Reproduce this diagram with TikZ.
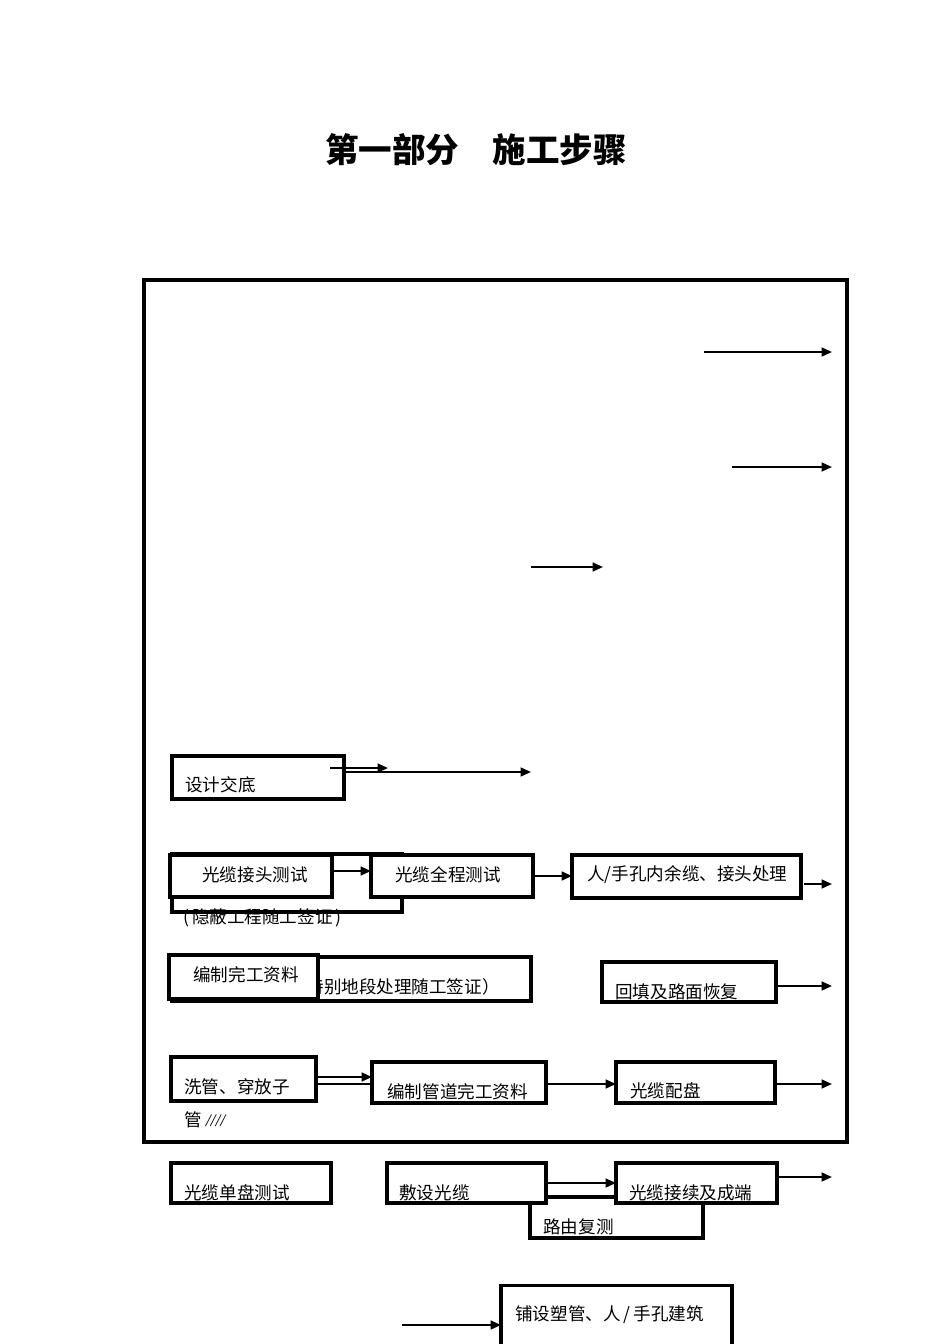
\documentclass[tikz,border=0pt]{standalone}
\usepackage{fontspec}
\setmainfont{Noto Sans CJK SC}
\newfontfamily\lser{Liberation Serif}
\usetikzlibrary{arrows.meta}
\def\pxu{0.6263pt}
\tikzset{
  box/.style={draw, line width=1.9pt, fill=white, inner sep=0pt, outer sep=0pt, anchor=north west},
  sz/.style 2 args={minimum width=#1*\pxu, minimum height=#2*\pxu},
  frame/.style={draw, line width=2pt, inner sep=0pt, outer sep=0pt, anchor=north west},
  lbl/.style={font=\fontsize{11pt}{13pt}\selectfont, inner sep=0pt, anchor=west},
  ttl/.style={font=\fontsize{21pt}{24pt}\selectfont\bfseries, inner sep=0pt},
  arr/.style={line width=1.3pt, -{Triangle[length=6.5pt,width=5.5pt]}},
  ln/.style={line width=1.3pt}}
\begin{document}
\begin{tikzpicture}[x=0.6263pt,y=-0.6263pt]
\useasboundingbox (0,0) rectangle (950,1344);

% title
\node[ttl] (title) at (476,150) {第一部分\quad 施工步骤};

% outer frame
\node[frame, sz={703}{862}] (fr) at (144,280) {};

% free-end coordinates
\coordinate (a1s) at (704,352);
\coordinate (a1e) at (832,352);
\coordinate (a2s) at (732,467);
\coordinate (a2e) at (832,467);
\coordinate (a3s) at (531,567);
\coordinate (a3e) at (603,567);

\draw[arr] (a1s) -- (a1e);
\draw[arr] (a2s) -- (a2e);
\draw[arr] (a3s) -- (a3e);

% design briefing
\node[box, sz={172}{43}] (sj) at (172,756) {};
\node[lbl] (sjt) at (185,785) {设计交底};
\coordinate (sjAs) at (330,768);
\coordinate (sjAe) at (388,768);
\coordinate (sjBe) at (531,772);
\draw[arr] (sjAs) -- (sjAe);
\draw[arr] (sj.east |- sjBe) -- (sjBe);

% row: splice test
\node[box, sz={230}{58}] (yb) at (172,854) {};
\node[box, sz={162}{42}] (jt) at (170,855) {};
\node[lbl] (jtt) at (202,875) {光缆接头测试};
\node[box, sz={162}{42}] (qc) at (371,855) {};
\node[lbl] (qct) at (395,875) {光缆全程测试};
\node[lbl] (ybt) at (183,918) {(\,隐蔽工程随工签证\,)};
\node[box, sz={229}{43}] (rs) at (572,855) {};
\node[lbl] (rst) at (587,875) {人/手孔内余缆、接头处理};
\coordinate (rse) at (832,884);
\draw[arr] (jt.east |- 0,871) -- (qc.west |- 0,871);
\draw[arr] (qc.east |- 0,876) -- (rs.west |- 0,876);
\draw[arr] ([xshift=2pt]rs.east |- rse) -- (rse);

% row: as-built documents
\node[box, sz={359}{44}] (tb) at (172,957) {};
\node[lbl, anchor=east] (tbt) at (500,987) {（特别地段处理随工签证）};
\node[box, sz={149}{44}] (bz) at (169,955) {};
\node[lbl] (bzt) at (193,975) {编制完工资料};
\node[box, sz={174}{40}] (ht) at (602,962) {};
\node[lbl] (htt) at (615,992) {回填及路面恢复};
\coordinate (hte) at (832,986);
\draw[arr] (ht.east |- hte) -- (hte);

% row: pipe cleaning
\node[box, sz={145}{44}] (xg) at (171,1057) {};
\node[lbl] (xgt) at (184,1087) {洗管、穿放子};
\node[lbl] (xgt2) at (184,1120) {管 {\lser\itshape ////}};
\node[box, sz={174}{41}] (gd) at (372,1062) {};
\node[lbl] (gdt) at (387,1092) {编制管道完工资料};
\node[box, sz={159}{41}] (pp) at (616,1062) {};
\node[lbl] (ppt) at (630,1091) {光缆配盘};
\coordinate (ppe) at (832,1084);
\draw[arr] (xg.east |- 0,1077) -- (gd.west |- 0,1077);
\draw[ln] (xg.east |- 0,1084) -- (gd.west |- 0,1084);
\draw[arr] (gd.east |- 0,1084) -- (pp.west |- 0,1084);
\draw[arr] (pp.east |- ppe) -- (ppe);

% row: cable laying
\node[box, sz={160}{40}] (dp) at (171,1163) {};
\node[lbl] (dpt) at (184,1193) {光缆单盘测试};
\node[box, sz={173}{41}] (ly) at (530,1197) {};
\node[lbl] (lyt) at (543,1227) {路由复测};
\node[box, sz={159}{40}] (fs) at (387,1163) {};
\node[lbl] (fst) at (399,1193) {敷设光缆};
\node[box, sz={161}{40}] (jx) at (616,1163) {};
\node[lbl] (jxt) at (629,1193) {光缆接续及成端};
\coordinate (jxe) at (832,1177);
\draw[arr] (fs.east |- 0,1183) -- (jx.west |- 0,1183);
\draw[arr] (jx.east |- jxe) -- (jxe);

% bottom box
\node[box, sz={231}{80}] (pg) at (501,1285) {};
\node[lbl] (pgt) at (515,1315) {铺设塑管、人\,/\,手孔建筑};
\coordinate (pgs) at (402,1325);
\draw[arr] (pgs) -- (pg.west |- pgs);
\end{tikzpicture}
\end{document}
